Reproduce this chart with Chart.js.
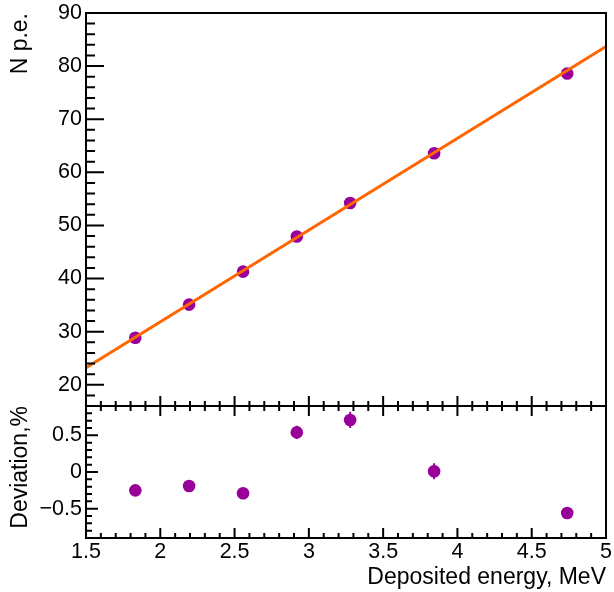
<!DOCTYPE html>
<html>
<head>
<meta charset="utf-8">
<script src="https://cdn.jsdelivr.net/npm/chart.js@4.4.1/dist/chart.umd.min.js"></script>
<style>
  body { margin: 0; background: #fff; }
  #wrap { position: relative; width: 614px; height: 592px; overflow: hidden; }
  canvas { position: absolute; left: 0; }
  #topChart { top: -40px; }
  #devChart { top: 366px; }
</style>
</head>
<body>
<div id="wrap">
  <canvas id="topChart" width="614" height="486"></canvas>
  <canvas id="devChart" width="614" height="226"></canvas>
</div>
<script>
// measured points
var energy = [1.832, 2.194, 2.557, 2.919, 3.278, 3.843, 4.739];
var npe = [28.85, 35.09, 41.30, 47.92, 54.23, 63.60, 78.60];
var deviation = [-0.25, -0.19, -0.29, 0.54, 0.71, 0.01, -0.56];
var deviationErr = [0.04, 0.04, 0.04, 0.09, 0.11, 0.11, 0.04];

// linear fit drawn over the full x range
var fitX = [1.5, 5];
var fitY = [23.2, 83.7];

// tick labels
var xTicks = [1.5, 2, 2.5, 3, 3.5, 4, 4.5, 5];
var npeTicks = [20, 30, 40, 50, 60, 70, 80, 90];
var devTicks = [-0.5, 0, 0.5];

var purple = '#990099';
var orange = '#ff6600';
var family = "'Liberation Sans', Arial, sans-serif";
var tickFont = { family: family, size: 21.5 };
var titleFont = { family: family, size: 23 };

Chart.defaults.font.family = family;
Chart.defaults.color = '#000';

function pts(xs, ys) {
    return xs.map(function (x, i) { return { x: x, y: ys[i] }; });
}

function tickValues(min, max, minor, major) {
    var out = [];
    var n = Math.round((max - min) / minor);
    for (var i = 0; i <= n; i++) {
        var v = min + i * minor;
        var r = v / major;
        out.push({ v: v, major: Math.abs(r - Math.round(r)) < 1e-6 });
    }
    return out;
}

// ROOT-like frame with inward ticks
var frameTicks = {
    id: 'frameTicks',
    afterDatasetsDraw: function (chart, args, o) {
        var ctx = chart.ctx, a = chart.chartArea;
        var xs = chart.scales.x, ys = chart.scales.y;
        ctx.save();
        ctx.strokeStyle = '#000';
        ctx.lineWidth = 2;
        ctx.beginPath();
        tickValues(ys.min, ys.max, o.yMinor, o.yMajor).forEach(function (t) {
            var py = ys.getPixelForValue(t.v);
            ctx.moveTo(a.left, py);
            ctx.lineTo(a.left + (t.major ? o.yLen[0] : o.yLen[1]), py);
        });
        tickValues(xs.min, xs.max, 0.1, 0.5).forEach(function (t) {
            var px = xs.getPixelForValue(t.v);
            var len = t.major ? 10 : 5;
            if (o.bottomTicks) {
                ctx.moveTo(px, a.bottom);
                ctx.lineTo(px, a.bottom - len);
            }
            if (o.topTicks) {
                ctx.moveTo(px, a.top);
                ctx.lineTo(px, a.top + len);
            }
        });
        ctx.stroke();
        ctx.strokeRect(a.left, a.top, a.right - a.left, a.bottom - a.top);
        ctx.restore();
    }
};

// vertical error bars on the deviation points
var errorBars = {
    id: 'errorBars',
    beforeDatasetsDraw: function (chart, args, o) {
        if (!o.err) return;
        var ctx = chart.ctx, xs = chart.scales.x, ys = chart.scales.y;
        var data = chart.data.datasets[0].data;
        ctx.save();
        ctx.strokeStyle = purple;
        ctx.lineWidth = 2;
        ctx.beginPath();
        data.forEach(function (p, i) {
            var px = xs.getPixelForValue(p.x);
            ctx.moveTo(px, ys.getPixelForValue(p.y - o.err[i]));
            ctx.lineTo(px, ys.getPixelForValue(p.y + o.err[i]));
        });
        ctx.stroke();
        ctx.restore();
    }
};

function setTicks(list) {
    return function (scale) {
        scale.ticks = list.map(function (v) { return { value: v }; });
    };
}

function numLabel(v) {
    return v < 0 ? '\u2212' + Math.abs(v) : String(v);
}

new Chart(document.getElementById('topChart'), {
    type: 'scatter',
    data: {
        datasets: [{
            type: 'line',
            data: pts(fitX, fitY),
            borderColor: orange,
            borderWidth: 3,
            pointRadius: 0,
            fill: false
        }, {
            data: pts(energy, npe),
            backgroundColor: purple,
            borderWidth: 0,
            pointRadius: 6.3
        }]
    },
    options: {
        responsive: false,
        animation: false,
        layout: { padding: { top: 53, right: 8, bottom: 40, left: 0 } },
        plugins: {
            legend: { display: false },
            tooltip: { enabled: false },
            frameTicks: { yMinor: 2, yMajor: 10, yLen: [18, 9], bottomTicks: true, topTicks: false }
        },
        scales: {
            x: { type: 'linear', min: 1.5, max: 5, display: false },
            y: {
                min: 16, max: 90,
                grid: { display: false, drawTicks: false },
                border: { display: false },
                afterBuildTicks: setTicks(npeTicks),
                afterFit: function (s) { s.width = 86; },
                ticks: { padding: 4, font: tickFont, callback: numLabel },
                title: { display: true, text: 'N p.e.', align: 'end', font: titleFont, padding: { top: 7 } }
            }
        }
    },
    plugins: [frameTicks]
});

new Chart(document.getElementById('devChart'), {
    type: 'scatter',
    data: {
        datasets: [{
            data: pts(energy, deviation),
            backgroundColor: purple,
            borderWidth: 0,
            pointRadius: 6.3
        }]
    },
    options: {
        responsive: false,
        animation: false,
        layout: { padding: { top: 40, right: 8, bottom: 0, left: 0 } },
        plugins: {
            legend: { display: false },
            tooltip: { enabled: false },
            frameTicks: { yMinor: 0.1, yMajor: 0.5, yLen: [12, 6], bottomTicks: true, topTicks: true },
            errorBars: { err: deviationErr }
        },
        scales: {
            x: {
                type: 'linear', min: 1.5, max: 5,
                grid: { display: false, drawTicks: false },
                border: { display: false },
                afterBuildTicks: setTicks(xTicks),
                afterFit: function (s) { s.height = 54; },
                ticks: { padding: 1, maxRotation: 0, autoSkip: false, font: tickFont, callback: numLabel },
                title: { display: true, text: 'Deposited energy, MeV', align: 'end', font: titleFont, padding: { bottom: 1 } }
            },
            y: {
                min: -0.9, max: 0.9,
                grid: { display: false, drawTicks: false },
                border: { display: false },
                afterBuildTicks: setTicks(devTicks),
                afterFit: function (s) { s.width = 86; },
                ticks: { padding: 4, font: tickFont, callback: numLabel },
                title: { display: true, text: 'Deviation,%', align: 'end', font: titleFont, padding: { top: 7 } }
            }
        }
    },
    plugins: [frameTicks, errorBars]
});
</script>
</body>
</html>
